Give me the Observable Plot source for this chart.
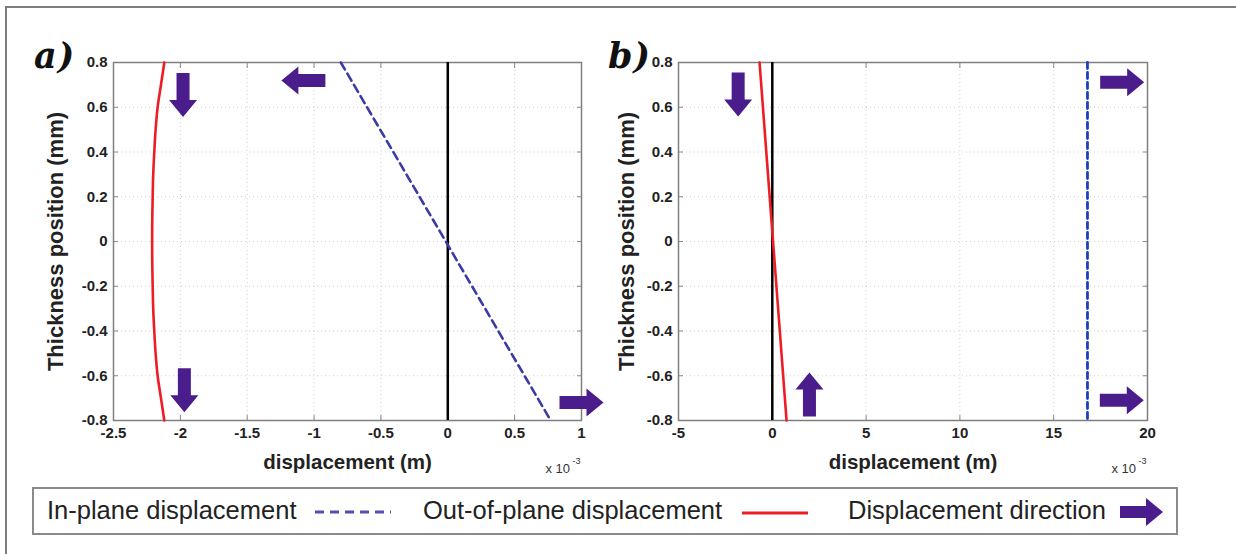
<!DOCTYPE html>
<html>
<head>
<meta charset="utf-8">
<script src="https://cdn.jsdelivr.net/npm/d3@7"></script>
<script src="https://cdn.jsdelivr.net/npm/@observablehq/plot@0.6"></script>
<style>
  html, body { margin: 0; padding: 0; background: #fff; }
  #fig { position: relative; width: 1236px; height: 554px; overflow: hidden; background: #fff;
         font-family: "Liberation Sans", Arial, sans-serif; }
  #outer { position: absolute; left: 5px; top: 6px; width: 1260px; height: 600px;
           border: 2px solid #7c7c7c; box-sizing: border-box; }
  .panel { position: absolute; top: 0; }
  .tag { position: absolute; font-family: "DejaVu Serif", "Liberation Serif", serif; font-style: italic;
         font-weight: bold; font-size: 35px; letter-spacing: 1px; color: #111; line-height: 1; z-index: 3; }
  #legend { position: absolute; left: 32px; top: 487px; width: 1146px; height: 48px;
            border: 2px solid #8a8a8a; box-sizing: border-box; background: #fff; }
  .lt { position: absolute; top: 50%; transform: translateY(-50%); font-size: 25.5px; color: #222;
        white-space: nowrap; line-height: 1; }
  .ls { position: absolute; top: 0; }
</style>
</head>
<body>
<div id="fig">
  <div id="outer"></div>
  <div id="pa" class="panel" style="left:0px"></div>
  <div id="pb" class="panel" style="left:610px"></div>
  <div class="tag" style="left:34px; top:38px">a)</div>
  <div class="tag" style="left:608px; top:38px">b)</div>
  <div id="legend"></div>
</div>
<script>
// ---------------- data ----------------
const yTicks = [-0.8, -0.6, -0.4, -0.2, 0, 0.2, 0.4, 0.6, 0.8];
const xTicksA = [-2.5, -2, -1.5, -1, -0.5, 0, 0.5, 1];
const xTicksB = [-5, 0, 5, 10, 15, 20];
const xDomainA = [-2.5, 1];
const xDomainB = [-5, 20];
const yDomain = [-0.8, 0.8];

// panel a: out-of-plane (red) displacement, x10^-3 m, vs thickness position
const thicknessA = [0.8, 0.7, 0.6, 0.5, 0.4, 0.3, 0.2, 0.1, 0, -0.1, -0.2, -0.3, -0.4, -0.5, -0.6, -0.7, -0.8];
const outOfPlaneA = [-2.12, -2.145, -2.17, -2.185, -2.195, -2.203, -2.207, -2.21, -2.211, -2.21, -2.207, -2.203, -2.195, -2.185, -2.17, -2.145, -2.12];
// panel a: in-plane (blue dashed)
const thicknessInA = [0.8, -0.8];
const inPlaneA = [-0.80, 0.77];

// panel b
const thicknessB = [0.8, -0.8];
const outOfPlaneB = [-0.68, 0.76];
const inPlaneB = [16.8, 16.8];

// direction arrows
const arrowAX = [-1.98, -1.97, -1.08, 1.0];
const arrowAY = [0.655, -0.665, 0.72, -0.72];
const arrowADir = ["down", "down", "left", "right"];
const arrowBX = [-1.82, 1.98, 18.65, 18.63];
const arrowBY = [0.657, -0.684, 0.712, -0.71];
const arrowBDir = ["down", "up", "right", "right"];

const legendLabels = ["In-plane displacement", "Out-of-plane displacement", "Displacement direction"];

// ---------------- styles ----------------
const RED = "#ee1c25";
const BLUE_A = "#3b3ba6";
const BLUE_B = "#1f3fc4";
const PURPLE = "#4a1c8c";

function makeArrow(angleDeg) {
  const a = angleDeg * Math.PI / 180, c = Math.cos(a), s = Math.sin(a);
  const L = 44, hl = 17, hw = 14, sw = 6.5;
  const x0 = -L / 2, x1 = L / 2 - hl, x2 = L / 2;
  const pts = [[x0, -sw], [x1, -sw], [x1, -hw], [x2, 0], [x1, hw], [x1, sw], [x0, sw]]
    .map(([x, y]) => [x * c - y * s, x * s + y * c]);
  return {
    draw(context) {
      context.moveTo(pts[0][0], pts[0][1]);
      for (let i = 1; i < pts.length; i++) context.lineTo(pts[i][0], pts[i][1]);
      context.closePath();
    }
  };
}
const arrowSymbols = { right: makeArrow(0), down: makeArrow(90), left: makeArrow(180), up: makeArrow(-90) };

function arrowMarks(X, Y, D) {
  const rows = X.map((x, i) => ({ x, y: Y[i], dir: D[i] }));
  return Object.keys(arrowSymbols).map(dir =>
    Plot.dot(rows.filter(d => d.dir === dir), { x: "x", y: "y", symbol: arrowSymbols[dir], fill: PURPLE, stroke: "none", r: 10 })
  );
}

const noText = () => "";
function panel({ width, marginLeft, marginRight, xDomain, xTicks, lines, arrows, yLabelDx }) {
  return Plot.plot({
    width, height: 480,
    marginLeft, marginRight, marginTop: 62, marginBottom: 60,
    style: { fontFamily: "'Liberation Sans', Arial, sans-serif", fontSize: "15px", fontWeight: "bold", color: "#222", background: "transparent", overflow: "visible" },
    x: { domain: xDomain, label: null },
    y: { domain: yDomain, label: null },
    marks: [
      Plot.gridX(xTicks, { stroke: "#b0b0b0", strokeOpacity: 0.6, strokeDasharray: "1,3" }),
      Plot.gridY(yTicks, { stroke: "#b0b0b0", strokeOpacity: 0.6, strokeDasharray: "1,3" }),
      // inward (MATLAB-style) tick marks on all four sides
      Plot.axisX(xTicks, { anchor: "bottom", label: null, tickSize: 5, dy: -5, tickFormat: noText, stroke: "#888" }),
      Plot.axisX(xTicks, { anchor: "top", label: null, tickSize: 5, dy: 5, tickFormat: noText, stroke: "#888" }),
      Plot.axisY(yTicks, { anchor: "left", label: null, tickSize: 5, dx: 5, tickFormat: noText, stroke: "#888" }),
      Plot.axisY(yTicks, { anchor: "right", label: null, tickSize: 5, dx: -5, tickFormat: noText, stroke: "#888" }),
      Plot.frame({ stroke: "#7f7f7f", strokeWidth: 1.5 }),
      Plot.axisX(xTicks, { anchor: "bottom", label: null, tickSize: 0, tickPadding: 7, tickFormat: d => String(d), fontSize: 15 }),
      Plot.axisY(yTicks, { anchor: "left", label: null, tickSize: 0, tickPadding: 6, tickFormat: d => String(d), fontSize: 15 }),
      Plot.ruleX([0], { stroke: "#000", strokeWidth: 2.5 }),
      ...lines,
      ...arrows,
      Plot.text(["Thickness position (mm)"], { frameAnchor: "left", textAnchor: "middle", lineAnchor: "middle", rotate: -90, dx: yLabelDx, fontSize: 22, fontWeight: "bold", fill: "#222" }),
      Plot.text(["displacement (m)"], { frameAnchor: "bottom", textAnchor: "middle", lineAnchor: "middle", dy: 42, fontSize: 20.5, fontWeight: "bold", fill: "#222" }),
      Plot.text(["x 10"], { frameAnchor: "bottom-right", textAnchor: "start", lineAnchor: "middle", dx: -36, dy: 48, fontSize: 13, fontWeight: "normal", fill: "#333" }),
      Plot.text(["-3"], { frameAnchor: "bottom-right", textAnchor: "start", lineAnchor: "middle", dx: -9, dy: 41, fontSize: 9, fontWeight: "normal", fill: "#333" })
    ]
  });
}

const rowsRedA = thicknessA.map((y, i) => ({ y, x: outOfPlaneA[i] }));
const rowsBlueA = thicknessInA.map((y, i) => ({ y, x: inPlaneA[i] }));
const rowsRedB = thicknessB.map((y, i) => ({ y, x: outOfPlaneB[i] }));
const rowsBlueB = thicknessB.map((y, i) => ({ y, x: inPlaneB[i] }));

const chartA = panel({
  width: 610, marginLeft: 113, marginRight: 29,
  xDomain: xDomainA, xTicks: xTicksA, yLabelDx: -58,
  lines: [
    Plot.line(rowsRedA, { x: "x", y: "y", stroke: RED, strokeWidth: 2.6, curve: "catmull-rom" }),
    Plot.line(rowsBlueA, { x: "x", y: "y", stroke: BLUE_A, strokeWidth: 2.6, strokeDasharray: "8,5" })
  ],
  arrows: arrowMarks(arrowAX, arrowAY, arrowADir)
});
const chartB = panel({
  width: 626, marginLeft: 68, marginRight: 89,
  xDomain: xDomainB, xTicks: xTicksB, yLabelDx: -52,
  lines: [
    Plot.line(rowsRedB, { x: "x", y: "y", stroke: RED, strokeWidth: 2.6 }),
    Plot.line(rowsBlueB, { x: "x", y: "y", stroke: BLUE_B, strokeWidth: 2.8, strokeDasharray: "6,4" })
  ],
  arrows: arrowMarks(arrowBX, arrowBY, arrowBDir)
});
document.getElementById("pa").appendChild(chartA);
document.getElementById("pb").appendChild(chartB);

// ---------------- legend ----------------
const legend = document.getElementById("legend");
const ns = "http://www.w3.org/2000/svg";
function addText(txt, left) {
  const d = document.createElement("div");
  d.className = "lt"; d.style.left = left + "px"; d.textContent = txt;
  legend.appendChild(d);
}
function addSwatch(left, width, build) {
  const svg = document.createElementNS(ns, "svg");
  svg.setAttribute("class", "ls");
  svg.setAttribute("width", width); svg.setAttribute("height", 44);
  svg.style.left = left + "px";
  build(svg);
  legend.appendChild(svg);
}
addText(legendLabels[0], 13);
addSwatch(279, 80, svg => {
  const l = document.createElementNS(ns, "line");
  l.setAttribute("x1", 2); l.setAttribute("x2", 78); l.setAttribute("y1", 23); l.setAttribute("y2", 23);
  l.setAttribute("stroke", "#5050b4"); l.setAttribute("stroke-width", 3); l.setAttribute("stroke-dasharray", "9,6");
  svg.appendChild(l);
});
addText(legendLabels[1], 389);
addSwatch(706, 70, svg => {
  const l = document.createElementNS(ns, "line");
  l.setAttribute("x1", 2); l.setAttribute("x2", 68); l.setAttribute("y1", 24); l.setAttribute("y2", 24);
  l.setAttribute("stroke", RED); l.setAttribute("stroke-width", 3);
  svg.appendChild(l);
});
addText(legendLabels[2], 814);
addSwatch(1084, 50, svg => {
  const p = document.createElementNS(ns, "path");
  p.setAttribute("d", "M2,17 L28,17 L28,9 L45,23 L28,37 L28,29 L2,29 Z");
  p.setAttribute("fill", PURPLE);
  svg.appendChild(p);
});
</script>
</body>
</html>
